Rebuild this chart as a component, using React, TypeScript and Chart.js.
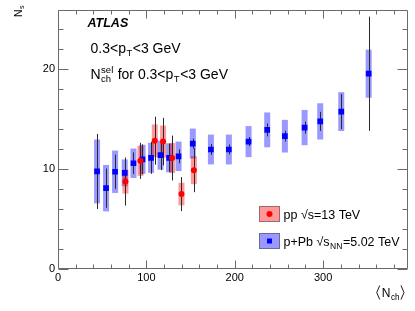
import React, { useEffect, useRef } from "react";
import { Chart, registerables } from "chart.js";

Chart.register(...registerables);

// ---------- data ----------
// p+Pb sqrt(s_NN)=5.02 TeV
const pbX = [44.2, 54.4, 64.6, 75.5, 85.4, 95.6, 105.3, 116.0, 125.7, 136.4, 152.5, 173.0, 193.3, 215.6, 236.7, 256.7, 279.0, 296.7, 320.5, 351.5];
const pbY = [9.74, 8.07, 9.71, 9.6, 10.56, 10.95, 11.1, 11.37, 11.1, 11.25, 12.52, 11.93, 11.93, 12.72, 13.89, 13.26, 14.12, 14.74, 15.72, 19.5];
const pbStat = [3.75, 1.96, 1.7, 0.8, 1.08, 1.5, 1.6, 1.5, 1.4, 0.7, 0.5, 0.54, 0.5, 0.46, 0.65, 0.54, 0.6, 0.95, 1.75, 5.7];
const pbSyst = [3.19, 2.32, 2.12, 1.34, 1.47, 1.45, 1.5, 1.45, 1.45, 1.47, 1.5, 1.49, 1.49, 1.55, 1.74, 1.63, 1.76, 1.81, 1.94, 2.4];

// pp sqrt(s)=13 TeV
const ppX = [76.3, 93.3, 109.5, 118.9, 129.1, 139.7, 153.7];
const ppY = [8.73, 10.8, 12.81, 12.72, 11.08, 7.48, 9.87];
const ppStat = [2.4, 1.8, 2.4, 2.37, 2.24, 1.7, 2.2];
const ppSyst = [1.2, 1.5, 1.63, 1.6, 1.5, 1.13, 1.4];

const X_MIN = 0;
const X_MAX = 396;
const Y_MIN = 0;
const Y_MAX = 25.9;
const X_TICKS = [0, 100, 200, 300];
const Y_TICKS = [0, 10, 20];
const X_MAJOR = 100;
const X_MINOR = 20;
const Y_MAJOR = 10;
const Y_MINOR = 2;

const legendLabels = [
  { head: "pp ", s: "s", sub: "", tail: "=13 TeV" },
  { head: "p+Pb ", s: "s", sub: "NN", tail: "=5.02 TeV" },
];

const FAMILY = '"Liberation Sans", Arial, Helvetica, sans-serif';

const BLUE = "#0000ff";
const RED = "#ff0000";
const BLUE_BOX = "rgba(0,0,255,0.4)";
const RED_BOX = "rgba(255,0,0,0.4)";

type Seg = string | { sub?: string; sup?: string };

function fnt(size: number, weight = "normal", style = "normal") {
  return `${style} ${weight} ${size}px ${FAMILY}`;
}

function rich(
  ctx: CanvasRenderingContext2D,
  x: number,
  y: number,
  segs: Seg[],
  size: number,
  draw = true,
  weight = "normal",
  style = "normal"
) {
  let cx = x;
  for (const s of segs) {
    if (typeof s === "string") {
      ctx.font = fnt(size, weight, style);
      if (draw) ctx.fillText(s, cx, y);
      cx += ctx.measureText(s).width;
    } else {
      const ss = size * 0.68;
      ctx.font = fnt(ss, weight, style);
      let w = 0;
      if (s.sup) {
        if (draw) ctx.fillText(s.sup, cx + 0.5, y - size * 0.42);
        w = Math.max(w, ctx.measureText(s.sup).width + 0.5);
      }
      if (s.sub) {
        if (draw) ctx.fillText(s.sub, cx + 0.5, y + size * 0.28);
        w = Math.max(w, ctx.measureText(s.sub).width + 0.5);
      }
      cx += w + 0.5;
    }
  }
  return cx - x;
}

function angle(ctx: CanvasRenderingContext2D, x: number, yTop: number, h: number, w: number, left: boolean) {
  ctx.beginPath();
  if (left) {
    ctx.moveTo(x + w, yTop);
    ctx.lineTo(x, yTop + h / 2);
    ctx.lineTo(x + w, yTop + h);
  } else {
    ctx.moveTo(x, yTop);
    ctx.lineTo(x + w, yTop + h / 2);
    ctx.lineTo(x, yTop + h);
  }
  ctx.stroke();
}

const atlasPlugin = {
  id: "atlasDecor",
  beforeDatasetsDraw(chart: any) {
    const ctx: CanvasRenderingContext2D = chart.ctx;
    const xs = chart.scales.x;
    const ys = chart.scales.y;
    ctx.save();
    const boxW = 6;
    const drawBoxes = (X: number[], Y: number[], E: number[], color: string) => {
      ctx.fillStyle = color;
      X.forEach((xv, i) => {
        const px = xs.getPixelForValue(xv);
        const top = ys.getPixelForValue(Y[i] + E[i]);
        const bot = ys.getPixelForValue(Y[i] - E[i]);
        ctx.fillRect(px - boxW / 2, top, boxW, bot - top);
      });
    };
    drawBoxes(pbX, pbY, pbSyst, BLUE_BOX);
    drawBoxes(ppX, ppY, ppSyst, RED_BOX);
    const drawStat = (X: number[], Y: number[], E: number[]) => {
      ctx.strokeStyle = "#2a2a2a";
      ctx.lineWidth = 1;
      X.forEach((xv, i) => {
        const px = Math.round(xs.getPixelForValue(xv)) + 0.5;
        const top = ys.getPixelForValue(Y[i] + E[i]);
        const bot = ys.getPixelForValue(Y[i] - E[i]);
        ctx.beginPath();
        ctx.moveTo(px, top);
        ctx.lineTo(px, bot);
        ctx.stroke();
      });
    };
    drawStat(pbX, pbY, pbStat);
    drawStat(ppX, ppY, ppStat);
    ctx.restore();
  },
  afterDraw(chart: any) {
    const ctx: CanvasRenderingContext2D = chart.ctx;
    const ca = chart.chartArea;
    const xs = chart.scales.x;
    const ys = chart.scales.y;
    ctx.save();
    // frame
    const L = Math.round(ca.left) + 0.5;
    const R = Math.round(ca.right) - 0.5;
    const T = Math.round(ca.top) + 0.5;
    const B = Math.round(ca.bottom) - 0.5;
    ctx.strokeStyle = "#6a6a6a";
    ctx.lineWidth = 1;
    ctx.beginPath();
    ctx.rect(L, T, R - L, B - T);
    ctx.stroke();
    ctx.beginPath();
    for (let v = X_MIN; v <= X_MAX + 1e-6; v += X_MINOR) {
      const px = Math.round(xs.getPixelForValue(v)) + 0.5;
      const major = Math.abs(v % X_MAJOR) < 1e-6;
      const len = major ? 8 : 4;
      ctx.moveTo(px, B);
      ctx.lineTo(px, B - len);
      ctx.moveTo(px, T);
      ctx.lineTo(px, T + len);
    }
    for (let v = Y_MIN; v <= Y_MAX + 1e-6; v += Y_MINOR) {
      const py = Math.round(ys.getPixelForValue(v)) + 0.5;
      const major = Math.abs(v % Y_MAJOR) < 1e-6;
      const len = major ? 10 : 5;
      ctx.moveTo(L, py);
      ctx.lineTo(L + len, py);
      ctx.moveTo(R, py);
      ctx.lineTo(R - len, py);
    }
    ctx.stroke();

    // texts
    ctx.fillStyle = "#000";
    ctx.textBaseline = "alphabetic";
    ctx.textAlign = "left";
    rich(ctx, 87.5, 26.5, ["ATLAS"], 12.5, true, "bold", "italic");
    rich(ctx, 90.5, 52.5, ["0.3<p", { sub: "T" }, "<3 GeV"], 14);
    rich(ctx, 90.5, 78.5, ["N", { sub: "ch", sup: "sel" }, " for 0.3<p", { sub: "T" }, "<3 GeV"], 14);

    // y title (rotated)
    ctx.save();
    ctx.translate(21.5, 17);
    ctx.rotate(-Math.PI / 2);
    rich(ctx, 0, 0, ["N", { sub: "s" }], 10.5);
    ctx.restore();

    // x title (right aligned): <N_ch>
    const xt: Seg[] = ["N", { sub: "ch" }];
    const w = rich(ctx, 0, 0, xt, 12, false);
    const xEnd = 400;
    const xStart = xEnd - w;
    rich(ctx, xStart, 296.5, xt, 12);
    ctx.strokeStyle = "#000";
    ctx.lineWidth = 0.9;
    angle(ctx, xStart - 5, 285.5, 14, 3, true);
    angle(ctx, xEnd + 1, 285.5, 14, 3, false);

    // legend
    const lx = 259.5;
    const rows = [
      { y: 206.5, fill: RED_BOX, stroke: "#9a6a6a", marker: "circle", color: RED },
      { y: 233.5, fill: BLUE_BOX, stroke: "#6a6a9a", marker: "rect", color: BLUE },
    ];
    rows.forEach((r, i) => {
      ctx.fillStyle = r.fill;
      ctx.fillRect(lx, r.y, 20, 15);
      ctx.strokeStyle = r.stroke;
      ctx.lineWidth = 1;
      ctx.strokeRect(lx, r.y, 20, 15);
      const cx = lx + 10;
      const cy = r.y + 7.5;
      ctx.fillStyle = r.color;
      if (r.marker === "circle") {
        ctx.beginPath();
        ctx.arc(cx, cy, 3, 0, Math.PI * 2);
        ctx.fill();
      } else {
        ctx.fillRect(cx - 2.5, cy - 2.5, 5, 5);
      }
      const lab = legendLabels[i];
      ctx.fillStyle = "#000";
      const segs: Seg[] = [lab.head + "\u221A" + lab.s];
      if (lab.sub) segs.push({ sub: lab.sub });
      segs.push(lab.tail);
      rich(ctx, 283.5, cy + 4.5, segs, 12.5);
    });
    ctx.restore();
  },
};

export default function App() {
  const ref = useRef<HTMLCanvasElement | null>(null);
  useEffect(() => {
    document.body.style.margin = "0";
    const canvas = ref.current;
    if (!canvas) return;
    const chart = new Chart(canvas, {
      type: "scatter",
      data: {
        datasets: [
          {
            label: "pp",
            data: ppX.map((x, i) => ({ x, y: ppY[i] })),
            pointStyle: "circle",
            pointRadius: 3,
            backgroundColor: RED,
            borderColor: RED,
            borderWidth: 0,
          },
          {
            label: "p+Pb",
            data: pbX.map((x, i) => ({ x, y: pbY[i] })),
            pointStyle: "rect",
            pointRadius: 4,
            backgroundColor: BLUE,
            borderColor: BLUE,
            borderWidth: 0,
          },
        ],
      },
      options: {
        animation: false,
        responsive: false,
        devicePixelRatio: 1,
        layout: { padding: { top: 5, right: 7, left: 0, bottom: 0 } },
        plugins: { legend: { display: false }, tooltip: { enabled: false } },
        scales: {
          x: {
            type: "linear",
            min: X_MIN,
            max: X_MAX,
            grid: { display: false, drawTicks: false },
            border: { display: false },
            afterBuildTicks: (s: any) => {
              s.ticks = X_TICKS.map((v) => ({ value: v }));
            },
            ticks: {
              autoSkip: false,
              maxRotation: 0,
              padding: 2,
              color: "#000",
              font: { family: FAMILY, size: 11 },
            },
            afterFit: (s: any) => {
              s.height = 42;
            },
          },
          y: {
            type: "linear",
            min: Y_MIN,
            max: Y_MAX,
            grid: { display: false, drawTicks: false },
            border: { display: false },
            afterBuildTicks: (s: any) => {
              s.ticks = Y_TICKS.map((v) => ({ value: v }));
            },
            ticks: {
              autoSkip: false,
              padding: 3,
              color: "#000",
              font: { family: FAMILY, size: 11 },
            },
            afterFit: (s: any) => {
              s.width = 58;
            },
          },
        },
      } as any,
      plugins: [atlasPlugin],
    });
    return () => chart.destroy();
  }, []);
  return (
    <div style={{ width: 415, height: 311 }}>
      <canvas ref={ref} width={415} height={311} style={{ display: "block" }} />
    </div>
  );
}
